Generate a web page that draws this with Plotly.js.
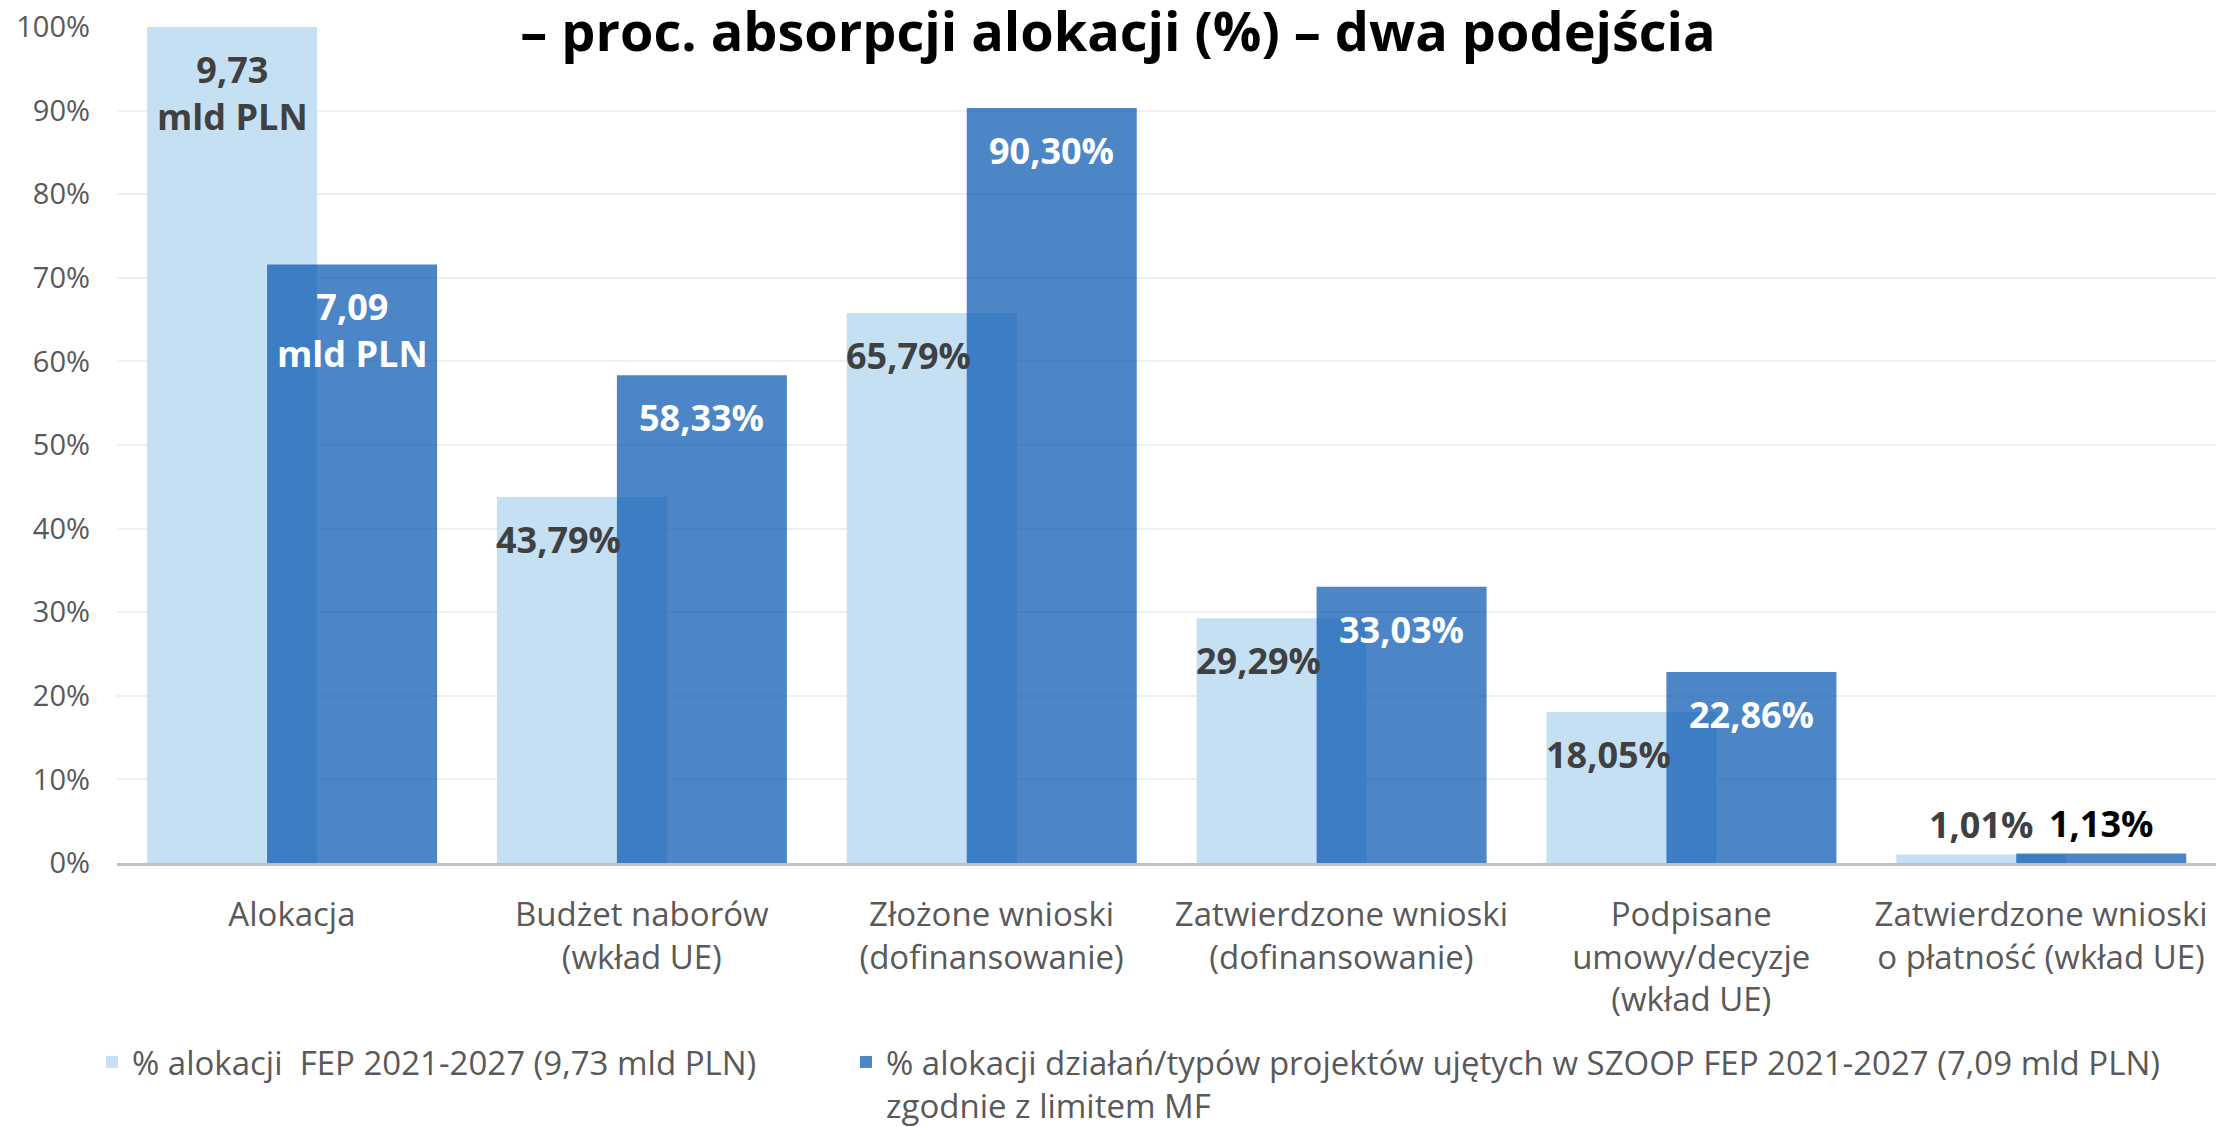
<!DOCTYPE html>
<html>
<head>
<meta charset="utf-8">
<script src="https://cdn.plot.ly/plotly-3.0.1.min.js"></script>
<style>
  html, body { margin: 0; padding: 0; background: #ffffff; }
  #chart { width: 2216px; height: 1127px; }
</style>
</head>
<body>
<div id="chart"></div>
<script>
// Etapy wdrażania programu FEP 2021-2027
const categories = [
  'Alokacja',
  'Budżet naborów<br>(wkład UE)',
  'Złożone wnioski<br>(dofinansowanie)',
  'Zatwierdzone wnioski<br>(dofinansowanie)',
  'Podpisane<br>umowy/decyzje<br>(wkład UE)',
  'Zatwierdzone wnioski<br>o płatność (wkład UE)'
];

// % alokacji FEP 2021-2027 (9,73 mld PLN)
const allocShare = [100, 43.79, 65.79, 29.29, 18.05, 1.01];
const allocLabels = ['9,73<br>mld PLN', '43,79%', '65,79%', '29,29%', '18,05%', '1,01%'];

// % alokacji działań/typów projektów ujętych w SZOOP (7,09 mld PLN)
const szoopShare = [71.6, 58.33, 90.30, 33.03, 22.86, 1.13];
const szoopLabels = ['7,09<br>mld PLN', '58,33%', '90,30%', '33,03%', '22,86%', '1,13%'];

const seriesNames = [
  '% alokacji  FEP 2021-2027 (9,73 mld PLN)',
  '% alokacji działań/typów projektów ujętych w SZOOP FEP 2021-2027 (7,09 mld PLN)<br>zgodnie z limitem MF'
];

const yTicks = [0, 10, 20, 30, 40, 50, 60, 70, 80, 90, 100];
const yTickLabels = ['0%', '10%', '20%', '30%', '40%', '50%', '60%', '70%', '80%', '90%', '100%'];

// bar geometry (category units) – the two series overlap
const BAR_W = 0.486;
const OFF_A = -0.414;
const OFF_B = -0.071;

const LIGHT = '#c5e0f3';
const DARK = 'rgba(2,82,175,0.7)';
const FONT = "'Open Sans', 'Noto Sans', sans-serif";
const TEXT_GRAY = '#595959';

const xIdx = categories.map((_, i) => i);

const traces = [
  {
    type: 'bar', name: seriesNames[0], x: xIdx, y: allocShare,
    width: BAR_W, offset: OFF_A, legend: 'legend',
    marker: { color: LIGHT }, hoverinfo: 'skip'
  },
  {
    type: 'bar', name: seriesNames[1], x: xIdx, y: szoopShare,
    width: BAR_W, offset: OFF_B, legend: 'legend2',
    marker: { color: DARK }, hoverinfo: 'skip'
  }
];

// value labels anchored to each bar's top
const annotations = [];
const last = categories.length - 1;
allocShare.forEach((v, i) => {
  const outside = i === last;
  annotations.push({
    xref: 'x', yref: 'y', x: i + OFF_A + BAR_W / 2, y: v,
    text: allocLabels[i], showarrow: false,
    xanchor: 'center', yanchor: outside ? 'bottom' : 'top',
    xshift: (i > 0 && !outside) ? -23 : 0,
    yshift: outside ? 4 : -16,
    font: { family: FONT, size: 36, color: '#404040', weight: 700 }
  });
});
szoopShare.forEach((v, i) => {
  const outside = i === last;
  annotations.push({
    xref: 'x', yref: 'y', x: i + OFF_B + BAR_W / 2, y: v,
    text: szoopLabels[i], showarrow: false,
    xanchor: 'center', yanchor: outside ? 'bottom' : 'top',
    yshift: outside ? 4 : -16,
    font: { family: FONT, size: 36, color: outside ? '#000000' : '#ffffff', weight: 700 }
  });
});

const legendBase = {
  orientation: 'h',
  xref: 'container', yref: 'container',
  xanchor: 'left',
  y: 1 - 1034 / 1127, yanchor: 'top',
  valign: 'top',
  font: { family: FONT, size: 33, color: TEXT_GRAY },
  bgcolor: 'rgba(0,0,0,0)'
};

const layout = {
  width: 2216, height: 1127,
  paper_bgcolor: '#ffffff', plot_bgcolor: '#ffffff',
  margin: { l: 117, r: 0, t: 27, b: 264, pad: 0 },
  barmode: 'overlay',
  showlegend: true,
  title: {
    text: '– proc. absorpcji alokacji (%) – dwa podejścia',
    font: { family: FONT, size: 54, color: '#000000', weight: 700 },
    xref: 'container', yref: 'container',
    x: 1118 / 2216, xanchor: 'center',
    y: 1 - 32 / 1127, yanchor: 'middle'
  },
  xaxis: {
    type: 'linear',
    range: [-0.5, categories.length - 0.5],
    tickmode: 'array', tickvals: xIdx, ticktext: categories,
    ticks: '', showgrid: false, zeroline: false,
    showline: true, linecolor: '#c0c0c0', linewidth: 3,
    tickfont: { family: FONT, size: 33, color: TEXT_GRAY },
    ticklabelstandoff: 20,
    fixedrange: true
  },
  yaxis: {
    range: [0, 100],
    tickmode: 'array', tickvals: yTicks, ticktext: yTickLabels,
    ticks: '', showgrid: true, gridcolor: '#efefef', gridwidth: 2,
    zeroline: false, showline: false,
    tickfont: { family: FONT, size: 29, color: TEXT_GRAY },
    ticklabelstandoff: 26,
    fixedrange: true
  },
  legend: Object.assign({}, legendBase, { x: 92 / 2216 }),
  legend2: Object.assign({}, legendBase, { x: 846 / 2216 }),
  annotations: annotations
};

Plotly.newPlot('chart', traces, layout, { displayModeBar: false, staticPlot: true });
</script>
</body>
</html>
